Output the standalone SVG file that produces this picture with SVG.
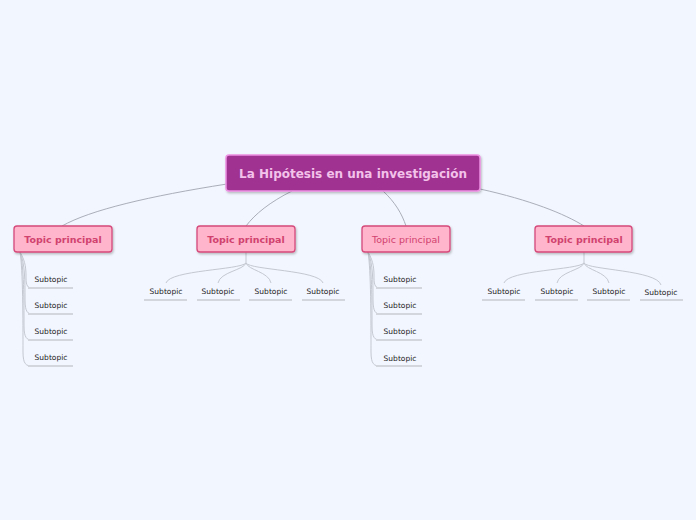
<svg xmlns="http://www.w3.org/2000/svg" width="696" height="520" viewBox="0 0 696 520">
<defs>
<filter id="sh" x="-10%" y="-20%" width="130%" height="160%">
<feDropShadow dx="1" dy="1.5" stdDeviation="1.2" flood-color="#000" flood-opacity="0.25"/>
</filter>
</defs>
<style>
.bg{fill:#f2f6fe}
.main{fill:#a03391;stroke:#ec90e2;stroke-width:1.5}
.mt{font-family:"DejaVu Sans",sans-serif;font-weight:bold;font-size:12px;fill:#f3c2ea;text-anchor:middle}
.topic{fill:#ffb5cb;stroke:#d5497b;stroke-width:1.3}
.tt{font-family:"DejaVu Sans",sans-serif;font-weight:bold;font-size:9.5px;fill:#d1426f;text-anchor:middle}
.tn{font-weight:normal}
.st{font-family:"DejaVu Sans",sans-serif;font-size:7.5px;fill:#222;text-anchor:middle}
.c{fill:none;stroke:#a9aeb9;stroke-width:1}
.sc{fill:none;stroke:#c4c8d0;stroke-width:1}
.ul{stroke:#d3d6dd;stroke-width:1.8}
</style>
<rect class="bg" width="696" height="520"/>
<g id="connectors">
<path class="c" d="M227,184 C150,196 90,210 62,226"/>
<path class="c" d="M292,191 C270,202 255,214 246,226"/>
<path class="c" d="M383,191 C395,202 402,214 406,226"/>
<path class="c" d="M480,189 C530,200 565,214 584,226"/>
<path class="sc" d="M20,252 C26,262 26,270 26,278 C26,286 28,288 32,288"/>
<path class="sc" d="M20,252 C25,264 25,280 25,300 C25,312 28,314 32,314"/>
<path class="sc" d="M20,252 C24,266 24,300 24,326 C24,338 27,340 32,340"/>
<path class="sc" d="M20,252 C23,270 23,320 23,352 C23,364 26,366 32,366"/>
<path class="sc" d="M368,252 C374,262 374,270 374,278 C374,286 376,288 380,288"/>
<path class="sc" d="M368,252 C373,264 373,280 373,300 C373,312 376,314 380,314"/>
<path class="sc" d="M368,252 C372,266 372,300 372,326 C372,338 375,340 380,340"/>
<path class="sc" d="M368,252 C371,270 371,320 371,352 C371,364 374,366 380,366"/>
<path class="sc" d="M246,252 L246,263"/>
<path class="sc" d="M246,263 C240,270 170,270 166,283"/>
<path class="sc" d="M246,263 C244,270 220,272 218,283"/>
<path class="sc" d="M246,263 C248,270 269,272 271,283"/>
<path class="sc" d="M246,263 C250,270 319,270 323,283"/>
<path class="sc" d="M584,252 L584,263"/>
<path class="sc" d="M584,263 C578,270 508,270 504,283"/>
<path class="sc" d="M584,263 C582,270 559,272 557,283"/>
<path class="sc" d="M584,263 C586,270 607,272 609,283"/>
<path class="sc" d="M584,263 C588,270 657,270 661,285"/>
</g>
<g id="main">
<rect class="main" x="226" y="155" width="254" height="36" rx="3" filter="url(#sh)"/>
<text class="mt" x="353" y="178">La Hipótesis en una investigación</text>
</g>
<g id="topic1">
<rect class="topic" x="14" y="226" width="98" height="26" rx="3" filter="url(#sh)"/>
<text class="tt" x="63" y="243">Topic principal</text>
</g>
<g id="topic2">
<rect class="topic" x="197" y="226" width="98" height="26" rx="3" filter="url(#sh)"/>
<text class="tt" x="246" y="243">Topic principal</text>
</g>
<g id="topic3">
<rect class="topic" x="362" y="226" width="88" height="26" rx="3" filter="url(#sh)"/>
<text class="tt tn" x="406" y="243">Topic principal</text>
</g>
<g id="topic4">
<rect class="topic" x="535" y="226" width="97" height="26" rx="3" filter="url(#sh)"/>
<text class="tt" x="584" y="243">Topic principal</text>
</g>
<g id="sub1a"><text class="st" x="51" y="282">Subtopic</text><line class="ul" x1="28" y1="288" x2="73" y2="288"/></g>
<g id="sub1b"><text class="st" x="51" y="308">Subtopic</text><line class="ul" x1="28" y1="314" x2="73" y2="314"/></g>
<g id="sub1c"><text class="st" x="51" y="334">Subtopic</text><line class="ul" x1="28" y1="340" x2="73" y2="340"/></g>
<g id="sub1d"><text class="st" x="51" y="360">Subtopic</text><line class="ul" x1="28" y1="366" x2="73" y2="366"/></g>
<g id="sub3a"><text class="st" x="400" y="282">Subtopic</text><line class="ul" x1="376" y1="288" x2="422" y2="288"/></g>
<g id="sub3b"><text class="st" x="400" y="308">Subtopic</text><line class="ul" x1="376" y1="314" x2="422" y2="314"/></g>
<g id="sub3c"><text class="st" x="400" y="334">Subtopic</text><line class="ul" x1="376" y1="340" x2="422" y2="340"/></g>
<g id="sub3d"><text class="st" x="400" y="361">Subtopic</text><line class="ul" x1="376" y1="366" x2="422" y2="366"/></g>
<g id="sub2a"><text class="st" x="166" y="294">Subtopic</text><line class="ul" x1="144" y1="300" x2="187" y2="300"/></g>
<g id="sub2b"><text class="st" x="218" y="294">Subtopic</text><line class="ul" x1="197" y1="300" x2="240" y2="300"/></g>
<g id="sub2c"><text class="st" x="271" y="294">Subtopic</text><line class="ul" x1="249" y1="300" x2="292" y2="300"/></g>
<g id="sub2d"><text class="st" x="323" y="294">Subtopic</text><line class="ul" x1="302" y1="300" x2="345" y2="300"/></g>
<g id="sub4a"><text class="st" x="504" y="294">Subtopic</text><line class="ul" x1="482" y1="300" x2="525" y2="300"/></g>
<g id="sub4b"><text class="st" x="557" y="294">Subtopic</text><line class="ul" x1="535" y1="300" x2="578" y2="300"/></g>
<g id="sub4c"><text class="st" x="609" y="294">Subtopic</text><line class="ul" x1="587" y1="300" x2="630" y2="300"/></g>
<g id="sub4d"><text class="st" x="661" y="295">Subtopic</text><line class="ul" x1="640" y1="300" x2="683" y2="300"/></g>
</svg>
